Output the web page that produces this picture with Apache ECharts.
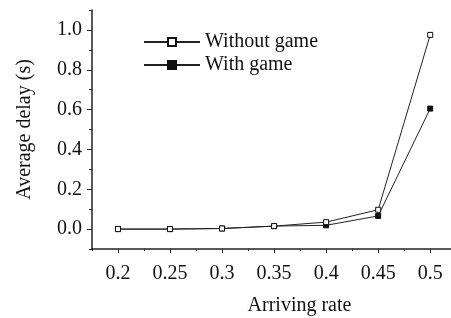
<!DOCTYPE html>
<html>
<head>
<meta charset="utf-8">
<script src="https://cdn.jsdelivr.net/npm/echarts@6/dist/echarts.min.js"></script>
<style>
  html, body { margin: 0; padding: 0; background: #fff; }
  #chart { width: 451px; height: 318px; }
</style>
</head>
<body>
<div id="chart"></div>
<script>
// arriving rate (x) and average delay in seconds (y)
var rates = [0.2, 0.25, 0.3, 0.35, 0.4, 0.45, 0.5];
var withoutGame = [0.0, 0.0, 0.003, 0.015, 0.035, 0.097, 0.975];
var withGame = [0.0, 0.0, 0.003, 0.015, 0.019, 0.066, 0.605];
var yTicks = [0.0, 0.2, 0.4, 0.6, 0.8, 1.0];

function pairs(ys) {
  return rates.map(function (x, i) { return [x, ys[i]]; });
}

var font = "Liberation Serif";
var ink = "#111";
var chart = echarts.init(document.getElementById("chart"));
var option = {
  animation: false,
  grid: { left: 92, right: 0, top: 10, bottom: 69, outerBoundsMode: "none" },
  legend: {
    left: 143,
    top: 32,
    padding: 0,
    orient: "vertical",
    itemWidth: 56,
    itemHeight: 10,
    itemGap: 3,
    textStyle: { fontFamily: font, fontSize: 20, color: ink },
    data: ["Without game", "With game"]
  },
  xAxis: [
    {
      type: "value",
      min: 0.175,
      max: 0.52,
      interval: 0.025,
      name: "Arriving rate",
      nameLocation: "middle",
      nameGap: 47,
      nameTextStyle: { fontFamily: font, fontSize: 20, color: ink, padding: [0, 0, 0, 56] },
      axisLine: { onZero: false, lineStyle: { color: "#222", width: 1.5 } },
      axisTick: { length: 2, lineStyle: { color: "#222" } },
      splitLine: { show: false },
      axisLabel: { show: false }
    },
    {
      // major ticks + labels
      type: "value",
      position: "bottom",
      min: 0.175,
      max: 0.52,
      axisLine: { show: false, onZero: false },
      axisTick: { show: true, length: 4, customValues: rates, lineStyle: { color: "#222" } },
      splitLine: { show: false },
      axisLabel: {
        margin: 15,
        fontFamily: font,
        fontSize: 20,
        color: ink,
        customValues: rates,
        formatter: function (v) { return String(Math.round(v * 1000) / 1000); }
      }
    }
  ],
  yAxis: [
    {
      type: "value",
      min: -0.1,
      max: 1.1,
      interval: 0.1,
      name: "Average delay (s)",
      nameLocation: "middle",
      nameGap: 57,
      nameTextStyle: { fontFamily: font, fontSize: 20, color: ink },
      axisLine: { show: true, onZero: false, lineStyle: { color: "#222", width: 1.5 } },
      axisTick: { show: true, length: 3, lineStyle: { color: "#222" } },
      splitLine: { show: false },
      axisLabel: { show: false }
    },
    {
      // major ticks + labels
      type: "value",
      position: "left",
      min: -0.1,
      max: 1.1,
      axisLine: { show: false, onZero: false },
      axisTick: { show: true, length: 5, customValues: yTicks, lineStyle: { color: "#222" } },
      splitLine: { show: false },
      axisLabel: {
        margin: 10,
        fontFamily: font,
        fontSize: 20,
        color: ink,
        customValues: yTicks,
        formatter: function (v) { return v.toFixed(1); }
      }
    }
  ],
  series: [
    {
      name: "Without game",
      type: "line",
      data: pairs(withoutGame),
      symbol: "rect",
      symbolSize: 5,
      itemStyle: { color: "#fff", borderColor: ink, borderWidth: 1 },
      lineStyle: { color: "#222", width: 1 },
      z: 3
    },
    {
      name: "With game",
      type: "line",
      data: pairs(withGame),
      symbol: "rect",
      symbolSize: 5,
      itemStyle: { color: ink, borderColor: ink, borderWidth: 1 },
      lineStyle: { color: "#222", width: 1 },
      z: 2
    }
  ]
};
option && chart.setOption(option);
</script>
</body>
</html>
